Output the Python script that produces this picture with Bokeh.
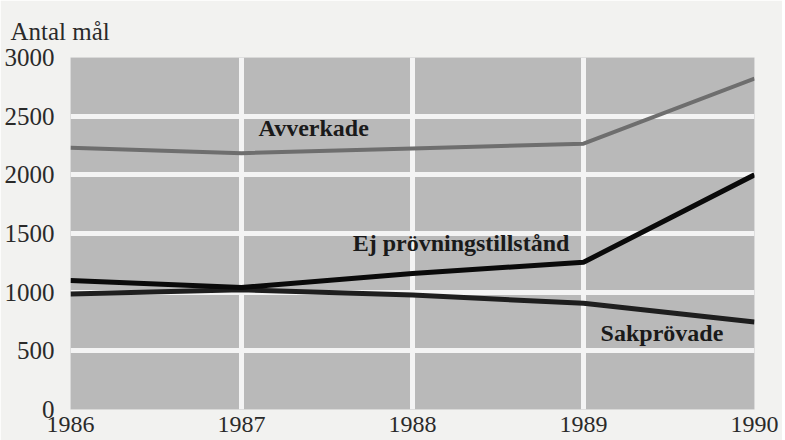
from bokeh.plotting import figure
from bokeh.models import ColumnDataSource, Label, FixedTicker
from bokeh.embed import file_html
from bokeh.resources import INLINE

years = [1986, 1987, 1988, 1989, 1990]
avverkade = [2230, 2185, 2225, 2265, 2820]
ej_provning = [1100, 1040, 1160, 1255, 2000]
sakprovade = [985, 1020, 975, 905, 745]

y_ticks = [0, 500, 1000, 1500, 2000, 2500, 3000]
x_ticks = [1986, 1987, 1988, 1989, 1990]

p = figure(width=782, height=440, output_backend="svg", toolbar_location=None,
           x_range=(1986, 1990), y_range=(0, 3000),
           min_border_left=70, min_border_right=28, min_border_top=57, min_border_bottom=31)
p.background_fill_color = "#b9b9b9"
p.border_fill_color = "#f2f2f0"
p.outline_line_color = None

p.title.text = "Antal mål"
p.title.text_font = "Liberation Serif"
p.title.text_font_size = "25px"
p.title.text_font_style = "normal"
p.title.text_color = "#2a2a2a"
p.title.offset = -60
p.title.standoff = 26

for ax in (p.xaxis, p.yaxis):
    ax.axis_line_color = None
    ax.major_tick_line_color = None
    ax.minor_tick_line_color = None
    ax.major_label_text_font = "Liberation Serif"
    ax.major_label_text_font_size = "24px"
    ax.major_label_text_color = "#2a2a2a"
p.yaxis.major_label_text_font_size = "25px"
p.xaxis.ticker = FixedTicker(ticks=x_ticks)
p.yaxis.ticker = FixedTicker(ticks=y_ticks)
p.xaxis.major_label_standoff = 1
p.yaxis.major_label_standoff = 10

p.xgrid.ticker = FixedTicker(ticks=x_ticks[1:-1])
p.ygrid.ticker = FixedTicker(ticks=y_ticks[1:-1])
for g in (p.xgrid, p.ygrid):
    g.grid_line_color = "#f4f4f4"
    g.grid_line_width = 5

src = ColumnDataSource(dict(x=years, a=avverkade, e=ej_provning, s=sakprovade))
p.line("x", "a", source=src, line_color="#6e6e6e", line_width=4)
p.line("x", "s", source=src, line_color="#1e1e1e", line_width=5)
p.line("x", "e", source=src, line_color="#0a0a0a", line_width=5)

lab_style = dict(text_font="Liberation Serif", text_font_size="24px",
                 text_font_style="bold", text_color="#1a1a1a", text_baseline="bottom")
p.add_layout(Label(x=1987.10, y=2285, text="Avverkade", **lab_style))
p.add_layout(Label(x=1987.65, y=1304, text="Ej prövningstillstånd", **lab_style))
p.add_layout(Label(x=1989.10, y=545, text="Sakprövade", **lab_style))

open("out.html", "w").write(file_html(p, INLINE))
